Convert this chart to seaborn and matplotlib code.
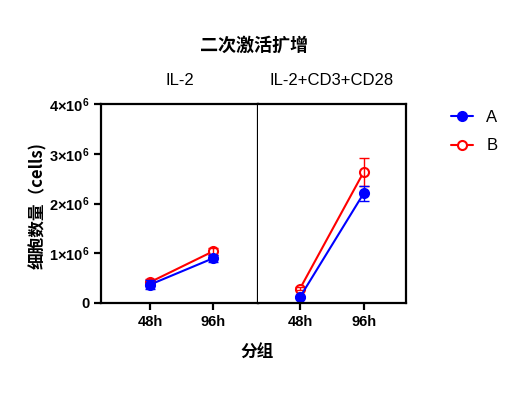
import seaborn as sns
import matplotlib.pyplot as plt
import pandas as pd

# data (cells, in millions)
times = ["48h", "96h"]
panels = ["IL-2", "IL-2+CD3+CD28"]
a_mean = {"IL-2": [0.37, 0.90], "IL-2+CD3+CD28": [0.12, 2.21]}
a_sd = {"IL-2": [0.09, 0.07], "IL-2+CD3+CD28": [0.02, 0.15]}
b_mean = {"IL-2": [0.42, 1.04], "IL-2+CD3+CD28": [0.29, 2.64]}
b_sd = {"IL-2": [0.06, 0.07], "IL-2+CD3+CD28": [0.03, 0.28]}
y_ticks = [0, 1, 2, 3, 4]
y_labels = ["0", "1×10$^{6}$", "2×10$^{6}$", "3×10$^{6}$", "4×10$^{6}$"]

sns.set_style("ticks")
plt.rcParams["font.family"] = ["Liberation Sans", "Noto Sans CJK SC", "DejaVu Sans"]
plt.rcParams["mathtext.fontset"] = "custom"
plt.rcParams["mathtext.rm"] = "Liberation Sans:bold"
plt.rcParams["mathtext.default"] = "regular"
for k in ["text.color", "axes.labelcolor", "xtick.color", "ytick.color", "axes.edgecolor"]:
    plt.rcParams[k] = "black"

fig = plt.figure(figsize=(5.32, 3.96), dpi=100)
gs = fig.add_gridspec(1, 2, left=0.19, right=0.763, top=0.737, bottom=0.235,
                      wspace=0, width_ratios=[157, 148])
ax1 = fig.add_subplot(gs[0])
ax2 = fig.add_subplot(gs[1], sharey=ax1)

styles = {
    "A": dict(color="#0000ff", mfc="#0000ff", mean=a_mean, sd=a_sd),
    "B": dict(color="#ff0000", mfc="white", mean=b_mean, sd=b_sd),
}

for ax, panel in zip([ax1, ax2], panels):
    for grp in ["B", "A"]:
        st = styles[grp]
        df = pd.DataFrame({"time": times, "cells": st["mean"][panel]})
        sns.lineplot(data=df, x="time", y="cells", ax=ax, color=st["color"],
                     marker="o", markersize=6.5, markerfacecolor=st["mfc"],
                     markeredgecolor=st["color"], markeredgewidth=1.5,
                     linewidth=1.5, label=grp)
        ax.errorbar(times, st["mean"][panel], yerr=st["sd"][panel], fmt="none",
                    ecolor=st["color"], elinewidth=1, capsize=3.5, capthick=1)
    ax.set_xlabel("")
    ax.set_ylabel("")
    ax.set_title(panel, fontsize=12, pad=14)
    ax.get_legend().remove()
    for s in ax.spines.values():
        s.set_linewidth(1.6)
    ax.tick_params(axis="both", width=1.6, length=5, labelsize=10.5)
    for lab in ax.get_xticklabels():
        lab.set_fontweight("bold")

ax1.set_xlim(-0.78, 1.71)
ax2.set_xlim(-0.66, 1.66)
ax1.set_ylim(0, 4)
ax1.set_yticks(y_ticks)
ax1.set_yticklabels(y_labels, fontweight="bold")
ax2.spines["left"].set_visible(False)
ax2.tick_params(axis="y", left=False, labelleft=False)

ax1.set_ylabel("细胞数量（cells)", fontsize=12, fontweight="bold",
               family=["Noto Sans CJK SC", "Liberation Sans"])
ax1.yaxis.set_label_coords(-0.345, 0.49)
fig.text(0.483, 0.11, "分组", ha="center", va="center", fontsize=12,
         fontweight="bold", family=["Noto Sans CJK SC"])
fig.text(0.477, 0.885, "二次激活扩增", ha="center", va="center", fontsize=13,
         fontweight="bold", family=["Noto Sans CJK SC"])

h, l = ax2.get_legend_handles_labels()
order = [l.index("A"), l.index("B")]
fig.legend([h[i] for i in order], ["A", "B"], loc="upper left",
           bbox_to_anchor=(0.82, 0.76), frameon=False, fontsize=12,
           handlelength=1.3, handletextpad=0.8, labelspacing=0.8)

fig.savefig("out.png", dpi=100)
